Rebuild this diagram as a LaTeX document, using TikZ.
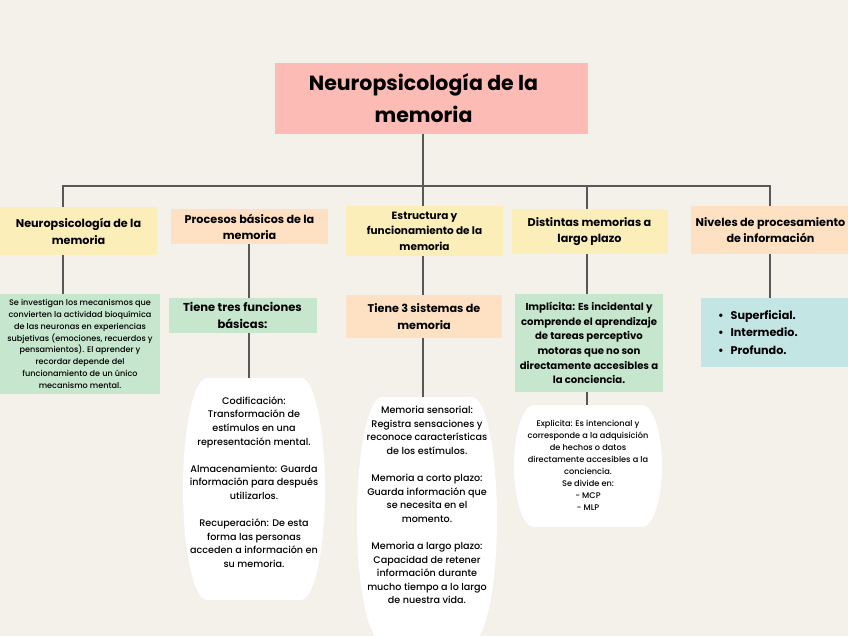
\documentclass[tikz,border=0pt]{standalone}
\usepackage{fontspec}
\setmainfont{Poppins}
\newfontfamily\medfont{Poppins Medium}
\definecolor{fondo}{HTML}{F4F0EA}
\definecolor{rosa}{HTML}{FCBCB5}
\definecolor{amarillo}{HTML}{FBEEB9}
\definecolor{durazno}{HTML}{FDE1C2}
\definecolor{verde}{HTML}{C6E7CE}
\definecolor{celeste}{HTML}{C3E5E3}
\definecolor{linea}{HTML}{585858}
\tikzset{
  caja/.style={
    fill=#1, draw=none,
    inner sep=0pt, outer sep=0pt,
    align=center, text=black
  },
  tema/.style={caja=#1, font=\bfseries\fontsize{11.2}{16}\selectfont},
  nota/.style={caja=#1, font=\medfont\fontsize{8.1}{11.8}\selectfont},
  barril/.style={caja=white, fill=none, font=\medfont\fontsize{9.6}{13.6}\selectfont},
  conector/.style={draw=linea, line width=1.2pt}
}

\begin{document}
\begin{tikzpicture}[x=1pt,y=-1pt]
\useasboundingbox (0,0) rectangle (848,636);
\fill[fondo] (0,0) rectangle (848,636);

%%%white barrels
\foreach \cx/\cy/\hw/\hh/\fl in {254/489/71/111/47, 427/519/70/122/45, 588/466/74/61/54}{
  \fill[white] ({\cx-\fl},{\cy-\hh}) -- ({\cx+\fl},{\cy-\hh})
     .. controls ({\cx+\fl+0.552*(\hw-\fl)},{\cy-\hh}) and ({\cx+\hw},{\cy-0.552*\hh}) .. ({\cx+\hw},\cy)
     .. controls ({\cx+\hw},{\cy+0.552*\hh}) and ({\cx+\fl+0.552*(\hw-\fl)},{\cy+\hh}) .. ({\cx+\fl},{\cy+\hh})
     -- ({\cx-\fl},{\cy+\hh})
     .. controls ({\cx-\fl-0.552*(\hw-\fl)},{\cy+\hh}) and ({\cx-\hw},{\cy+0.552*\hh}) .. ({\cx-\hw},\cy)
     .. controls ({\cx-\hw},{\cy-0.552*\hh}) and ({\cx-\fl-0.552*(\hw-\fl)},{\cy-\hh}) .. cycle;
}

%%%title
\node[caja=rosa, minimum width=313pt, minimum height=71pt,
      font=\bfseries\fontsize{20.5}{32}\selectfont] (titulo) at (431.5,98.5)
      {Neuropsicología de la\hspace*{16pt}\\memoria\hspace*{16pt}};

%%%first row
\node[tema=amarillo, minimum width=157pt, minimum height=48pt,
      font=\bfseries\fontsize{11.2}{17}\selectfont] (b1) at (78.5,231)
      {Neuropsicología de la\\memoria};
\node[tema=durazno, minimum width=157pt, minimum height=35pt] (b2) at (249.5,226.5)
      {Procesos básicos de la\\memoria};
\node[tema=amarillo, minimum width=157pt, minimum height=50pt,
      font=\bfseries\fontsize{10.5}{15.5}\selectfont] (b3) at (424.5,231)
      {Estructura y\\funcionamiento de la\\memoria};
\node[tema=amarillo, minimum width=156pt, minimum height=45pt] (b4) at (589.5,231.5)
      {Distintas memorias a\\largo plazo};
\node[tema=durazno, minimum width=159pt, minimum height=48pt] (b5) at (770.5,230)
      {Niveles de procesamiento\\de información};

%%%second row
\node[nota=verde, minimum width=160pt, minimum height=100pt] (g1) at (80,344)
      {Se investigan los mecanismos que\\convierten la actividad bioquímica\\de las neuronas en experiencias\\subjetivas (emociones, recuerdos y\\pensamientos). El aprender y\\recordar depende del\\funcionamiento de un único\\mecanismo mental.};
\node[tema=verde, minimum width=148pt, minimum height=35pt,
      font=\bfseries\fontsize{11.5}{17}\selectfont] (g2) at (242.5,315.5)
      {Tiene tres funciones\\básicas:};
\node[tema=durazno, minimum width=156pt, minimum height=43pt,
      font=\bfseries\fontsize{11.2}{17}\selectfont] (o3) at (424,316.5)
      {Tiene 3 sistemas de\\memoria};
\node[tema=verde, minimum width=148pt, minimum height=98pt,
      font=\bfseries\fontsize{10.1}{14.6}\selectfont] (g4) at (589,343)
      {Implícita: Es incidental y\\comprende el aprendizaje\\de tareas perceptivo\\motoras que no son\\directamente accesibles a\\la conciencia.};
\node[caja=celeste, minimum width=150pt, minimum height=69pt, anchor=west,
      text width=130pt, inner xsep=17pt, align=left,
      font=\bfseries\fontsize{11.2}{17.5}\selectfont] (c5) at (701,332.5)
      {\textbullet\hspace{7pt}Superficial.\\\textbullet\hspace{7pt}Intermedio.\\\textbullet\hspace{7pt}Profundo.};

%%%third row
\node[barril, minimum width=142pt, minimum height=208pt] (e1) at (254,482)
      {Codificación:\\Transformación de\\estímulos en una\\representación mental.\\[13.6pt]Almacenamiento: Guarda\\información para después\\utilizarlos.\\[13.6pt]Recuperación: De esta\\forma las personas\\acceden a información en\\su memoria.};
\node[barril, minimum width=140pt, minimum height=216pt] (e2) at (427,505)
      {Memoria sensorial:\\Registra sensaciones y\\reconoce características\\de los estímulos.\\[13.6pt]Memoria a corto plazo:\\Guarda información que\\se necesita en el\\momento.\\[13.6pt]Memoria a largo plazo:\\Capacidad de retener\\información durante\\mucho tiempo a lo largo\\de nuestra vida.};
\node[barril, minimum width=148pt, minimum height=120pt,
      font=\medfont\fontsize{8.2}{12}\selectfont] (e3) at (588,465)
      {Explicita: Es intencional y\\corresponde a la adquisición\\de hechos o datos\\directamente accesibles a la\\conciencia.\\Se divide en:\\- MCP\\- MLP};

%%%connectors
\coordinate (bus1) at (63,186);
\coordinate (bus3) at (423,186);
\coordinate (bus4) at (587,186);
\coordinate (bus5) at (770,186);
\draw[conector] (titulo.south -| bus3) -- (bus3);
\draw[conector] (bus1 |- b1.north) -- (bus1) -- (bus5) -- (bus5 |- b5.north);
\draw[conector] (bus3) -- (bus3 |- b3.north);
\draw[conector] (bus4) -- (bus4 |- b4.north);
\draw[conector] (bus1 |- b1.south) -- (bus1 |- g1.north);
\draw[conector] (b2.south -| 249,0) -- (g2.north -| 249,0);
\draw[conector] (g2.south -| 249,0) -- (e1.north -| 249,0);
\draw[conector] (b3.south -| bus3) -- (o3.north -| bus3);
\draw[conector] (o3.south -| bus3) -- (e2.north -| bus3);
\draw[conector] (b4.south -| bus4) -- (g4.north -| bus4);
\draw[conector] (g4.south -| bus4) -- (e3.north -| bus4);
\draw[conector] (b5.south -| bus5) -- (c5.north -| bus5);

\end{tikzpicture}
\end{document}
